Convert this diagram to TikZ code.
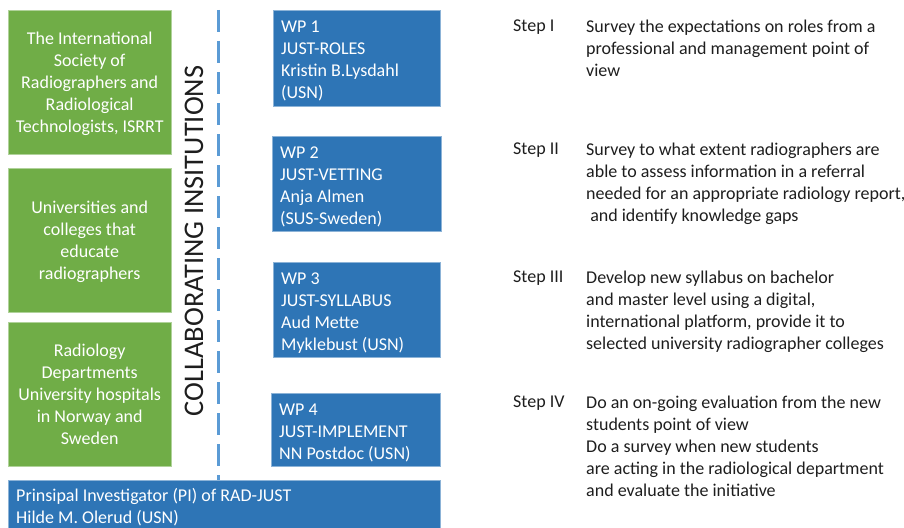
\documentclass[tikz,border=0pt]{standalone}
\usepackage{fontspec}
\setmainfont{Carlito}
\usetikzlibrary{positioning}

\definecolor{instgreen}{HTML}{70AD47}
\definecolor{wpblue}{HTML}{2E75B6}
\definecolor{axisblue}{HTML}{5B9BD5}
\definecolor{darktext}{HTML}{1E1E1E}

\tikzset{
    inst/.style={anchor=north west, fill=instgreen, draw=instgreen!55!white,
        text=white, align=center, inner sep=0pt, text depth=0pt,
        minimum width=163pt, minimum height=144pt,
        font=\fontsize{18}{22}\selectfont},
    wp/.style={anchor=north west, fill=wpblue, draw=wpblue!55!white,
        text=white, align=flush left, inner xsep=8pt, inner ysep=0pt,
        text height=18pt, font=\fontsize{18}{22}\selectfont},
    steplabel/.style={anchor=north west, inner sep=0pt, text=darktext,
        font=\fontsize{18}{22}\selectfont},
    stepdesc/.style={steplabel, align=flush left},
}

\begin{document}
\begin{tikzpicture}[x=1pt, y=-1pt]

    \useasboundingbox (0,0) rectangle (904,527);

    % institutions
    \node[inst] (isrrt) at (8,10) {The International\\Society of\\Radiographers and\\Radiological\\Technologists, ISRRT};
    \node[inst] (univ) at (8,168) {Universities and\\colleges that\\educate\\radiographers};
    \node[inst] (hosp) at (8,322) {Radiology\\Departments\\University hospitals\\in Norway and\\Sweden};

    \node[rotate=90, inner sep=0pt, text=darktext, font=\fontsize{28.4}{32}\selectfont]
        (collab) at (194,241) {COLLABORATING INSITUTIONS};

    % work packages
    \node[wp, text width=151pt, minimum height=96pt] (wp1) at (273,10) {WP 1\\JUST-ROLES\\Kristin B.Lysdahl\\(USN)};
    \node[wp, text width=153pt, minimum height=95pt] (wp2) at (272,136) {WP 2\\JUST-VETTING\\Anja Almen\\(SUS-Sweden)};
    \node[wp, text width=151pt, minimum height=95pt] (wp3) at (273,262) {WP 3\\JUST-SYLLABUS\\Aud Mette\\Myklebust (USN)};
    \node[wp, text width=153pt, minimum height=73pt] (wp4) at (271,393) {WP 4\\JUST-IMPLEMENT\\NN Postdoc (USN)};
    \node[wp, text width=416pt, minimum height=52pt, text height=15pt] (pi) at (8,480) {Prinsipal Investigator (PI) of RAD-JUST\\Hilde M. Olerud (USN)};

    % dashed divider down to the PI box
    \coordinate (axis top) at (218,10);
    \draw[axisblue, line width=3pt, dash pattern=on 22pt off 9pt] (axis top) -- (axis top |- pi.north);

    % steps
    \foreach \n/\y/\lbl/\txt in {
        1/20/Step I/{Survey the expectations on roles from a\\professional and management point of\\view},
        2/143/Step II/{Survey to what extent radiographers are\\able to assess information in a referral\\needed for an appropriate radiology report,\\\ and identify knowledge gaps},
        3/271/Step III/{Develop new syllabus on bachelor\\and master level using a digital,\\international platform, provide it to\\selected university radiographer colleges},
        4/396/Step IV/{Do an on-going evaluation from the new\\students point of view\\Do a survey when new students\\are acting in the radiological department\\and evaluate the initiative}%
    }{
        \node[steplabel] (step\n) at (513,\y) {\lbl};
        \node[stepdesc] (desc\n) at (586,\y) {\txt};
    }

\end{tikzpicture}
\end{document}
